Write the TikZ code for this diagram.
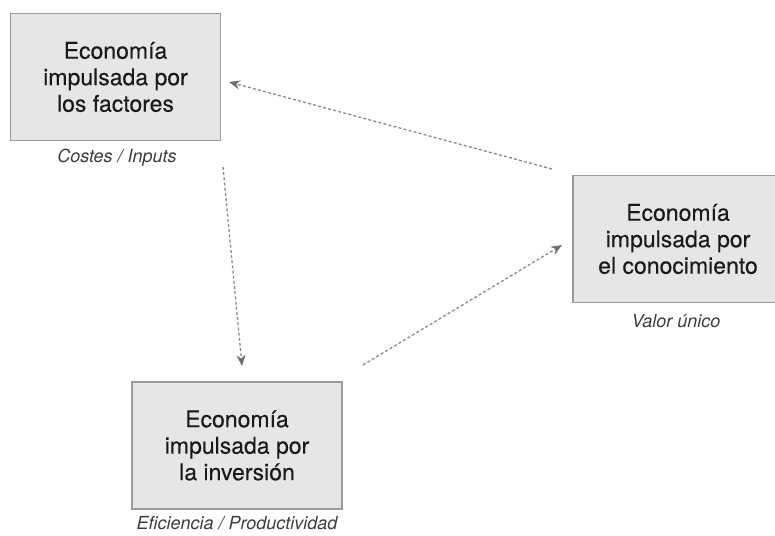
\documentclass[tikz,border=0pt]{standalone}
\usepackage{fontspec}
\setmainfont{TeX Gyre Heros}
\newfontfamily\boxfont[FakeBold=0.2]{TeX Gyre Heros}
\usetikzlibrary{arrows.meta}
\definecolor{boxfill}{HTML}{E6E6E6}
\definecolor{boxline}{HTML}{9A9A9A}
\definecolor{ink}{HTML}{1A1A1A}
\definecolor{flow}{HTML}{8A8A8A}
\definecolor{tip}{HTML}{707070}
\tikzset{
  econbox/.style={draw=boxline, line width=1.6pt, fill=boxfill,
    minimum width=210pt, minimum height=127pt, inner sep=0pt,
    align=center, text=ink,
    font=\boxfont\fontsize{23}{26.5}\selectfont},
  caption/.style={text=ink!85, font=\fontsize{18}{20}\selectfont\itshape, inner sep=0pt},
  flowarrow/.style={draw=flow, line width=1.3pt, dash pattern=on 3pt off 2.2pt,
    -{Stealth[length=11pt, width=9pt, fill=tip, color=tip]}, shorten >=0pt},
}
\begin{document}
\begin{tikzpicture}[x=1pt, y=-1pt]
  \useasboundingbox (0,0) rectangle (775,535);

  % the three stages of the economy
  \node[econbox] (factores) at (115.5,77) {Economía\\impulsada por\\los factores};
  \node[econbox] (inversion) at (237,445.5) {Economía\\impulsada por\\la inversión};
  \node[econbox] (conoc) at (678,239) {Economía\\impulsada por\\el conocimiento};

  % what drives each stage
  \node[caption] (cfact) at (117,158) {Costes / Inputs};
  \node[caption] (cinv) at (237,523) {Eficiencia / Productividad};
  \node[caption] (ccon) at (676,321) {Valor único};

  % end points of the transitions
  \coordinate (a1) at (223,167);
  \coordinate (a2) at (242,366);
  \coordinate (b1) at (363,365);
  \coordinate (b2) at (562,245);
  \coordinate (c1) at (552,169);
  \coordinate (c2) at (229,82);

  \draw[flowarrow] (a1) -- (a2);
  \draw[flowarrow] (b1) -- (b2);
  \draw[flowarrow] (c1) -- (c2);
\end{tikzpicture}
\end{document}
